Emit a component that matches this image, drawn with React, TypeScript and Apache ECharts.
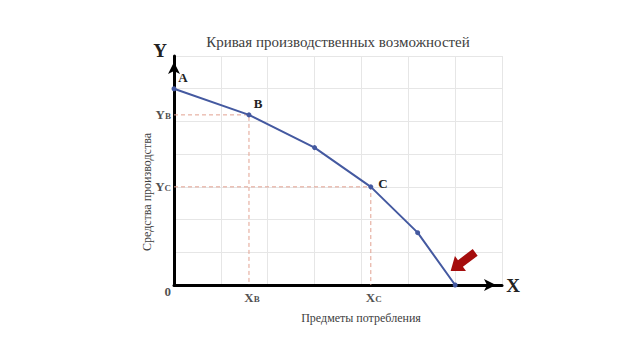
import React, { useEffect, useRef } from 'react';
import * as echarts from 'echarts';

// Production possibilities curve points
const xValues = [0, 1.6, 3, 4.2, 5.2, 6];
const yValues = [6, 5.2, 4.2, 3, 1.6, 0];
const pointNames = ['A', 'B', '', 'C', '', ''];
// points with dashed guides to the axes
const guideIndices = [1, 3];
const guideSubscripts = ['B', 'C'];

const titleText = 'Кривая производственных возможностей';
const xAxisTitle = 'Предметы потребления';
const yAxisTitle = 'Средства производства';

const AXIS_MIN = 0;
const AXIS_MAX = 7;
const AXIS_STEP = 1;

const LINE_COLOR = '#4459a0';
const GUIDE_COLOR = '#e2a190';
const SERIF = "'Liberation Serif', 'DejaVu Serif', serif";

export default function App() {
  const ref = useRef<HTMLDivElement>(null);

  useEffect(() => {
    if (!ref.current) return;
    const chart = echarts.init(ref.current, null, { renderer: 'svg' });

    const curveData = xValues.map((x, i) => {
      const name = pointNames[i];
      const item: any = { value: [x, yValues[i]], name };
      if (name === 'C') {
        item.label = { show: true, position: 'right', distance: 5, offset: [0, -3] };
      } else if (name) {
        item.label = { show: true, position: 'top', distance: 2, offset: [9, 0] };
      }
      return item;
    });

    const guideSeries = guideIndices.map((idx) => ({
      type: 'line',
      silent: true,
      symbol: 'none',
      z: 1,
      lineStyle: { color: GUIDE_COLOR, width: 1, type: [4, 3] },
      data: [
        [AXIS_MIN, yValues[idx]],
        [xValues[idx], yValues[idx]],
        [xValues[idx], AXIS_MIN],
      ],
    }));

    const labelRich = {
      m: { fontFamily: SERIF, fontWeight: 'bold', fontSize: 13, color: '#222' },
      s: { fontFamily: SERIF, fontWeight: 'bold', fontSize: 9, color: '#222', padding: [3, 0, 0, 0] },
    };

    const tickLabelData: any[] = [];
    guideIndices.forEach((idx, k) => {
      tickLabelData.push({
        value: [AXIS_MIN, yValues[idx]],
        label: { show: true, position: 'left', distance: 3, formatter: `{m|Y}{s|${guideSubscripts[k]}}`, rich: labelRich },
      });
      tickLabelData.push({
        value: [xValues[idx], AXIS_MIN],
        label: { show: true, position: 'bottom', distance: 6, offset: [3, 0], formatter: `{m|X}{s|${guideSubscripts[k]}}`, rich: labelRich },
      });
    });
    tickLabelData.push({
      value: [AXIS_MIN, AXIS_MIN],
      label: { show: true, position: 'left', distance: 3, offset: [0, 6], formatter: '{m|0}', rich: labelRich },
    });

    const axisCommon = {
      type: 'value',
      min: AXIS_MIN,
      max: AXIS_MAX,
      interval: AXIS_STEP,
      axisLine: {
        show: true,
        lineStyle: { color: '#000', width: 3 },
        symbol: ['none', 'arrow'],
        symbolSize: [9, 12],
        symbolOffset: [0, -6],
      },
      axisTick: { show: false },
      axisLabel: { show: false },
      splitLine: { show: true, lineStyle: { color: '#e6e6e6', width: 1 } },
    };

    const last = xValues.length - 1;

    chart.setOption({
      animation: false,
      grid: { left: 174, right: 138, top: 56, bottom: 75 },
      xAxis: { ...axisCommon },
      yAxis: { ...axisCommon },
      graphic: [
        {
          type: 'text', x: 338, y: 42,
          style: { text: titleText, fontFamily: SERIF, fontSize: 15, fill: '#404040', textAlign: 'center', textVerticalAlign: 'middle' },
        },
        {
          type: 'text', x: 361, y: 318,
          style: { text: xAxisTitle, fontFamily: SERIF, fontSize: 12, fill: '#404040', textAlign: 'center', textVerticalAlign: 'middle' },
        },
        {
          type: 'text', x: 147, y: 192, rotation: Math.PI / 2,
          style: { text: yAxisTitle, fontFamily: SERIF, fontSize: 12, fill: '#404040', textAlign: 'center', textVerticalAlign: 'middle' },
        },
        {
          type: 'text', x: 160, y: 50,
          style: { text: 'Y', fontFamily: SERIF, fontSize: 19, fontWeight: 'bold', fill: '#222', textAlign: 'center', textVerticalAlign: 'middle' },
        },
        {
          type: 'text', x: 513, y: 285,
          style: { text: 'X', fontFamily: SERIF, fontSize: 19, fontWeight: 'bold', fill: '#222', textAlign: 'center', textVerticalAlign: 'middle' },
        },
      ],
      series: [
        ...guideSeries,
        {
          type: 'line',
          z: 3,
          symbol: 'circle',
          symbolSize: 5,
          showSymbol: true,
          lineStyle: { color: LINE_COLOR, width: 2 },
          itemStyle: { color: LINE_COLOR },
          label: {
            show: false,
            formatter: '{b}',
            fontFamily: SERIF,
            fontWeight: 'bold',
            fontSize: 13,
            color: '#222',
          },
          data: curveData,
          markPoint: {
            silent: true,
            symbol: 'path://M2 22 L6.2 7.6 L9.2 11.6 L23.6 0.8 L28.4 7.2 L14 18 L17 22 Z',
            symbolSize: [27, 22],
            symbolOffset: [9, -25],
            itemStyle: { color: '#a50d0d' },
            label: { show: false },
            data: [{ coord: [xValues[last], yValues[last]] }],
          },
        },
        {
          type: 'scatter',
          silent: true,
          symbolSize: 0,
          z: 4,
          data: tickLabelData,
        },
      ],
    });

    return () => chart.dispose();
  }, []);

  return (
    <div
      ref={ref}
      style={{ position: 'absolute', left: 0, top: 0, width: 640, height: 360, background: '#fff' }}
    />
  );
}
